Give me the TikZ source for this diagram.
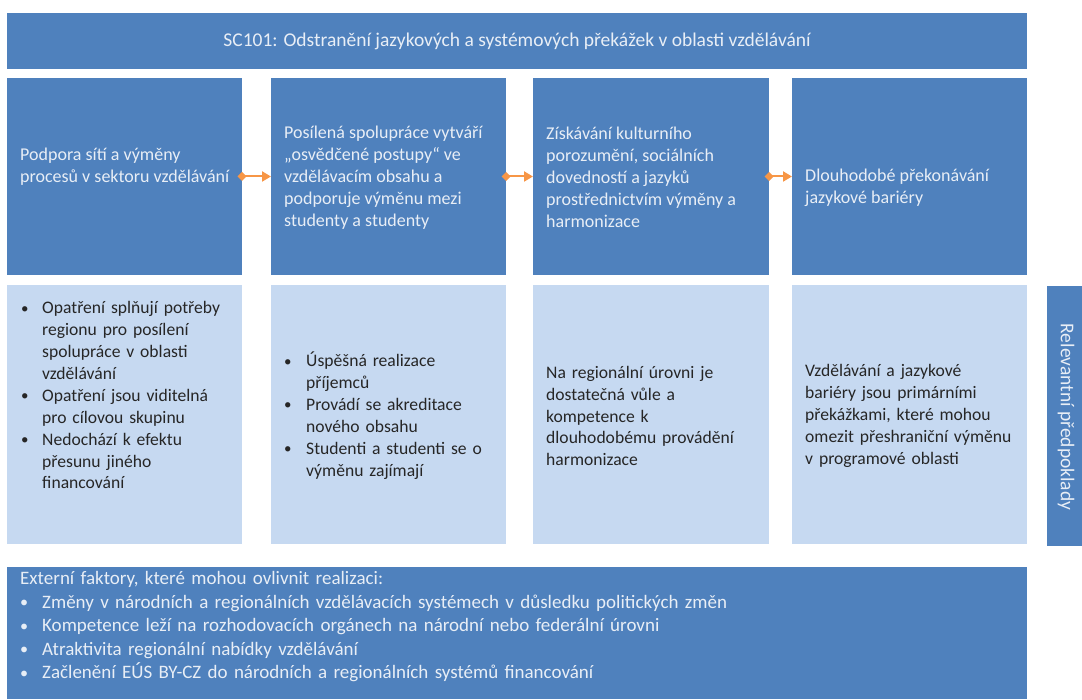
\documentclass[tikz,border=0pt]{standalone}
\usepackage{fontspec}
\setmainfont{Carlito}
\usetikzlibrary{arrows.meta}

\definecolor{boxblue}{RGB}{79,129,189}
\definecolor{boxlight}{RGB}{198,217,241}
\definecolor{boxtext}{RGB}{232,238,246}
\definecolor{listtext}{RGB}{38,38,38}
\definecolor{flowarrow}{RGB}{247,150,70}

\newenvironment{bulletlist}[1]{\begin{list}{\raisebox{0.5pt}{\scalebox{0.85}{\textbullet}}}{\setlength{\leftmargin}{#1}\setlength{\labelwidth}{#1}\setlength{\labelsep}{0pt}\setlength{\topsep}{0pt}\setlength{\partopsep}{0pt}\setlength{\itemsep}{0pt}\setlength{\parsep}{0pt}\renewcommand{\makelabel}[1]{##1\hfill}}}{\end{list}}

\begin{document}
\begin{tikzpicture}[x=1pt,y=1pt,yscale=-1,
  darkbox/.style={fill=boxblue, draw=none, inner sep=0pt, outer sep=0pt},
  lightbox/.style={fill=boxlight, draw=none, inner sep=0pt, outer sep=0pt},
  headtext/.style={anchor=west, inner sep=0pt, align=left, text=boxtext, font=\fontsize{18}{22}\selectfont},
  condtext/.style={anchor=west, inner sep=0pt, align=left, text width=225pt, text=listtext, font=\fontsize{17.6}{21.9}\selectfont},
  flow/.style={draw=flowarrow, line width=2pt, {Diamond[length=9pt,width=9pt]}-{Triangle[length=9pt,width=10pt]}, shorten <=-4.5pt}
]
\useasboundingbox (0,0) rectangle (1082,700);

%Shape: Rectangle
\node [darkbox, minimum width=1020, minimum height=56] (title) at (517,41) {};
%Shape: Rectangle
\node [darkbox, minimum width=235, minimum height=197] (goalA) at (124.5,176.5) {};
%Shape: Rectangle
\node [darkbox, minimum width=235, minimum height=197] (goalB) at (388.5,176.5) {};
%Shape: Rectangle
\node [darkbox, minimum width=236, minimum height=197] (goalC) at (651,176.5) {};
%Shape: Rectangle
\node [darkbox, minimum width=235, minimum height=197] (goalD) at (909.5,176.5) {};
%Shape: Rectangle
\node [lightbox, minimum width=235, minimum height=259] (condA) at (124.5,414.5) {};
%Shape: Rectangle
\node [lightbox, minimum width=235, minimum height=259] (condB) at (388.5,414.5) {};
%Shape: Rectangle
\node [lightbox, minimum width=236, minimum height=259] (condC) at (651,414.5) {};
%Shape: Rectangle
\node [lightbox, minimum width=235, minimum height=259] (condD) at (909.5,414.5) {};
%Shape: Rectangle
\node [darkbox, minimum width=1020, minimum height=132] (ext) at (517,633) {};
%Shape: Rectangle
\node [darkbox, minimum width=35, minimum height=260] (relev) at (1064.5,416) {};

%Straight Lines
\draw [flow] (goalA.east) -- (goalB.west);
%Straight Lines
\draw [flow] (goalB.east) -- (goalC.west);
%Straight Lines
\draw [flow] (goalC.east) -- (goalD.west);

% Text Node
\node [text=boxtext, font=\fontsize{19.5}{22}\selectfont] at (title.center) {SC101: Odstranění jazykových a systémových překážek v oblasti vzdělávání};
% Text Node
\node [headtext] at (20,167) {Podpora sítí a výměny\\procesů v sektoru vzdělávání};
% Text Node
\node [headtext] at (284,177.5) {Posílená spolupráce vytváří\\„osvědčené postupy“ ve\\vzdělávacím obsahu a\\podporuje výměnu mezi\\studenty a studenty};
% Text Node
\node [headtext] at (546,177) {Získávání kulturního\\porozumění, sociálních\\dovedností a jazyků\\prostřednictvím výměny a\\harmonizace};
% Text Node
\node [headtext] at (805,188) {Dlouhodobé překonávání\\jazykové bariéry};

% Text Node
\node [condtext] at (21,390.5) {\begin{bulletlist}{21pt}
\item Opatření splňují potřeby\\regionu pro posílení\\spolupráce v oblasti\\vzdělávání
\item Opatření jsou viditelná\\pro cílovou skupinu
\item Nedochází k efektu\\přesunu jiného\\financování
\end{bulletlist}};
% Text Node
\node [condtext] at (284,412) {\begin{bulletlist}{22pt}
\item Úspěšná realizace\\příjemců
\item Provádí se akreditace\\nového obsahu
\item Studenti a studenti se o\\výměnu zajímají
\end{bulletlist}};
% Text Node
\node [condtext] at (546,416) {Na regionální úrovni je\\dostatečná vůle a\\kompetence k\\dlouhodobému provádění\\harmonizace};
% Text Node
\node [condtext] at (805,416) {Vzdělávání a jazykové\\bariéry jsou primárními\\překážkami, které mohou\\omezit přeshraniční výměnu\\v programové oblasti};

% Text Node
\node [anchor=west, inner sep=0pt, align=left, text width=1000pt, text=boxtext, font=\fontsize{19}{23.5}\selectfont] at (20,627) {Externí faktory, které mohou ovlivnit realizaci:
\begin{bulletlist}{22pt}
\item Změny v národních a regionálních vzdělávacích systémech v důsledku politických změn
\item Kompetence leží na rozhodovacích orgánech na národní nebo federální úrovni
\item Atraktivita regionální nabídky vzdělávání
\item Začlenění EÚS BY-CZ do národních a regionálních systémů financování
\end{bulletlist}};
% Text Node
\node [rotate=-90, text=boxtext, font=\fontsize{19.5}{22}\selectfont] at (1066,417) {Relevantní předpoklady};

\end{tikzpicture}
\end{document}
